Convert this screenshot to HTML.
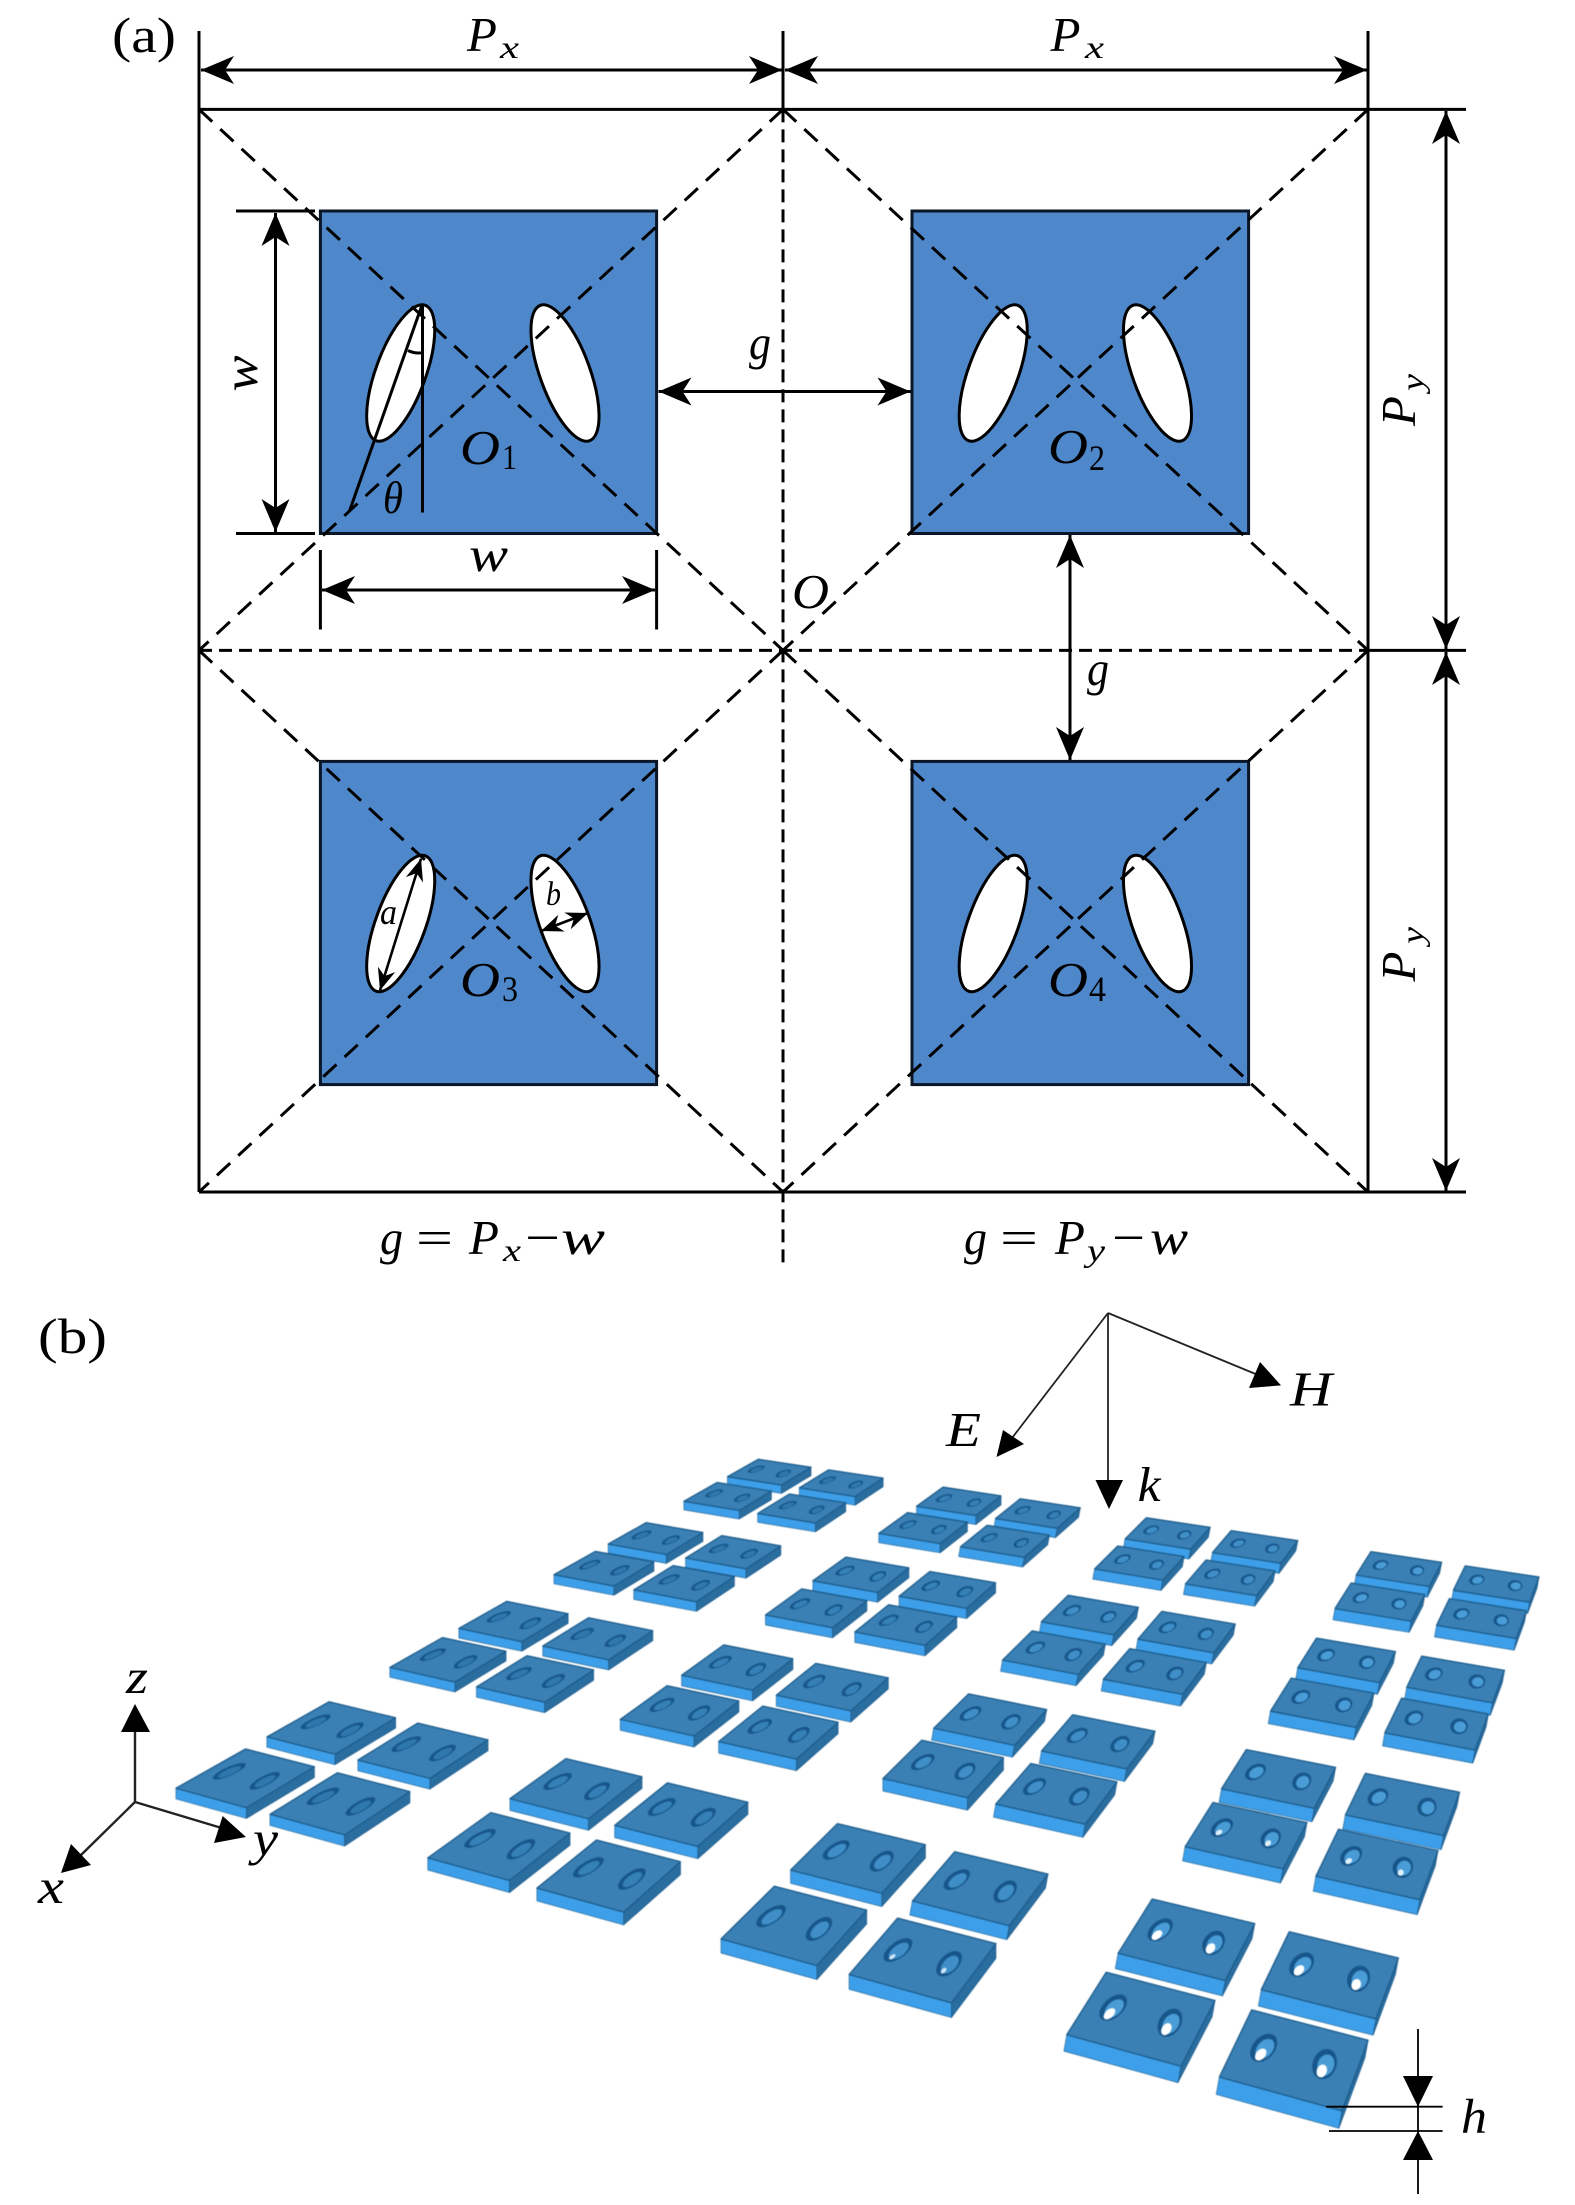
<!DOCTYPE html>
<html>
<head>
<meta charset="utf-8">
<title>Diagram</title>
<style>
html,body{margin:0;padding:0;background:#fff}
svg{display:block}
text{font-family:"Liberation Serif",serif;fill:#000}
.i{font-style:italic}
</style>
</head>
<body>
<svg xmlns="http://www.w3.org/2000/svg" width="1575" height="2205" viewBox="0 0 1575 2205">
<defs>
<marker id="m" markerUnits="userSpaceOnUse" markerWidth="40" markerHeight="32" refX="0" refY="0" viewBox="-36 -16 40 32" orient="auto-start-reverse" overflow="visible"><path d="M0,0 L-33,-14 L-24,0 L-33,14Z" fill="#000"/></marker>
<marker id="s" markerUnits="userSpaceOnUse" markerWidth="30" markerHeight="24" refX="0" refY="0" viewBox="-26 -12 30 24" orient="auto-start-reverse" overflow="visible"><path d="M0,0 L-22,-9 L-15,0 L-22,9Z" fill="#000"/></marker>
</defs>
<rect width="1575" height="2205" fill="#fff"/>

<!-- squares -->
<g fill="#4e88cb" stroke="#0a1626" stroke-width="3">
<rect x="320.4" y="211" width="336.2" height="322.5"/>
<rect x="912" y="211" width="336.6" height="322.5"/>
<rect x="320.4" y="761.4" width="336.2" height="323.2"/>
<rect x="912" y="761.4" width="336.6" height="323.2"/>
</g>
<!-- ellipses -->
<g fill="#fff" stroke="#000" stroke-width="3">
<ellipse cx="400.7" cy="373" rx="25" ry="72" transform="rotate(20 400.7 373)"/>
<ellipse cx="565" cy="373" rx="25" ry="72" transform="rotate(-20 565 373)"/>
<ellipse cx="993.2" cy="373" rx="25" ry="72" transform="rotate(20 993.2 373)"/>
<ellipse cx="1157.5" cy="373" rx="25" ry="72" transform="rotate(-20 1157.5 373)"/>
<ellipse cx="400.7" cy="923.5" rx="25" ry="72" transform="rotate(20 400.7 923.5)"/>
<ellipse cx="565" cy="923.5" rx="25" ry="72" transform="rotate(-20 565 923.5)"/>
<ellipse cx="993.2" cy="923.5" rx="25" ry="72" transform="rotate(20 993.2 923.5)"/>
<ellipse cx="1157.5" cy="923.5" rx="25" ry="72" transform="rotate(-20 1157.5 923.5)"/>
</g>
<!-- dashed -->
<g stroke="#000" stroke-width="3" fill="none" stroke-dasharray="18 11">
<path d="M199,109.4 L783,650.4"/><path d="M783,109.4 L199,650.4"/>
<path d="M783,109.4 L1368,650.4"/><path d="M1368,109.4 L783,650.4"/>
<path d="M199,650.4 L783,1192"/><path d="M783,650.4 L199,1192"/>
<path d="M783,650.4 L1368,1192"/><path d="M1368,650.4 L783,1192"/>
</g>
<g stroke="#000" stroke-width="3" fill="none" stroke-dasharray="13 7">
<path d="M199,650.4 L1368,650.4"/>
<path d="M783,109.4 L783,1263"/>
</g>
<!-- solid lines -->
<g stroke="#000" stroke-width="3" fill="none">
<path d="M199,31 V1192"/>
<path d="M783,31 V109.4"/>
<path d="M1368,31 V1192"/>
<path d="M199,109.4 H1466"/>
<path d="M199,1192 H1466"/>
<path d="M1368,650.4 H1466"/>
<path d="M236,211 H315"/>
<path d="M236,533.5 H315"/>
<path d="M320.4,550 V629.5"/>
<path d="M656.6,550 V629.5"/>
<path d="M422,305 L349.5,511"/>
<path d="M422.5,305 V512.5"/>
<path d="M408,350.5 Q415,354 422.5,352.7"/>
</g>
<!-- arrows -->
<g stroke="#000" stroke-width="3" fill="none">
<path d="M201,70 H782" marker-start="url(#m)" marker-end="url(#m)"/>
<path d="M785,70 H1367" marker-start="url(#m)" marker-end="url(#m)"/>
<path d="M1446,111 V649" marker-start="url(#m)" marker-end="url(#m)"/>
<path d="M1446,652 V1191" marker-start="url(#m)" marker-end="url(#m)"/>
<path d="M275.5,213 V532" marker-start="url(#m)" marker-end="url(#m)"/>
<path d="M322,590 H655" marker-start="url(#m)" marker-end="url(#m)"/>
<path d="M658.5,391.5 H910.5" marker-start="url(#m)" marker-end="url(#m)"/>
<path d="M1070,535 V760" marker-start="url(#m)" marker-end="url(#m)"/>
</g>
<g stroke="#000" stroke-width="2.6" fill="none">
<path d="M421,858.8 L380,990.4" marker-start="url(#s)" marker-end="url(#s)"/>
<path d="M541,931 L588,913" marker-start="url(#s)" marker-end="url(#s)"/>
</g>

<!-- labels (a) -->
<text x="112" y="52" font-size="50" textLength="64" lengthAdjust="spacingAndGlyphs">(a)</text>
<text class="i" x="467" y="51" font-size="49">P</text>
<text class="i" x="500" y="58" font-size="32" textLength="19" lengthAdjust="spacingAndGlyphs">x</text>
<text class="i" x="1050.5" y="51" font-size="49">P</text>
<text class="i" x="1085" y="58" font-size="32" textLength="19" lengthAdjust="spacingAndGlyphs">x</text>
<text class="i" x="749" y="359" font-size="49" textLength="22" lengthAdjust="spacingAndGlyphs">g</text>
<text class="i" x="1087" y="685" font-size="49" textLength="22" lengthAdjust="spacingAndGlyphs">g</text>
<text class="i" x="792" y="608" font-size="49" textLength="37" lengthAdjust="spacingAndGlyphs">O</text>
<text class="i" x="460" y="464" font-size="49" textLength="40" lengthAdjust="spacingAndGlyphs">O</text>
<text x="502" y="469" font-size="36" textLength="15" lengthAdjust="spacingAndGlyphs">1</text>
<text class="i" x="1048" y="463" font-size="49" textLength="40" lengthAdjust="spacingAndGlyphs">O</text>
<text x="1089" y="470" font-size="36" textLength="16" lengthAdjust="spacingAndGlyphs">2</text>
<text class="i" x="460" y="996" font-size="49" textLength="40" lengthAdjust="spacingAndGlyphs">O</text>
<text x="502" y="1001" font-size="36" textLength="16" lengthAdjust="spacingAndGlyphs">3</text>
<text class="i" x="1048" y="996" font-size="49" textLength="40" lengthAdjust="spacingAndGlyphs">O</text>
<text x="1089" y="1001" font-size="36" textLength="17" lengthAdjust="spacingAndGlyphs">4</text>
<text class="i" x="383" y="513" font-size="46" textLength="20" lengthAdjust="spacingAndGlyphs">θ</text>
<text class="i" x="469" y="571" font-size="49" textLength="39" lengthAdjust="spacingAndGlyphs">w</text>
<text class="i" x="257" y="391.5" font-size="49" textLength="36" lengthAdjust="spacingAndGlyphs" transform="rotate(-90 257 391.5)">w</text>
<text class="i" x="1415" y="426" font-size="49" transform="rotate(-90 1415 426)">P</text>
<text class="i" x="1423" y="391" font-size="32" textLength="17" lengthAdjust="spacingAndGlyphs" transform="rotate(-90 1423 391)">y</text>
<text class="i" x="1415" y="981.5" font-size="49" transform="rotate(-90 1415 981.5)">P</text>
<text class="i" x="1423" y="944" font-size="32" textLength="17" lengthAdjust="spacingAndGlyphs" transform="rotate(-90 1423 944)">y</text>
<text class="i" x="380" y="924" font-size="36" textLength="17" lengthAdjust="spacingAndGlyphs">a</text>
<text class="i" x="546" y="905" font-size="34" textLength="15" lengthAdjust="spacingAndGlyphs">b</text>

<text class="i" x="380" y="1254" font-size="49" textLength="23" lengthAdjust="spacingAndGlyphs">g</text>
<text x="416" y="1254" font-size="49" textLength="37" lengthAdjust="spacingAndGlyphs">=</text>
<text class="i" x="469" y="1254" font-size="49">P</text>
<text class="i" x="503" y="1261" font-size="32" textLength="18" lengthAdjust="spacingAndGlyphs">x</text>
<text x="525" y="1254" font-size="49" textLength="35" lengthAdjust="spacingAndGlyphs">−</text>
<text class="i" x="561" y="1254" font-size="49" textLength="44" lengthAdjust="spacingAndGlyphs">w</text>

<text class="i" x="964" y="1254" font-size="49" textLength="23" lengthAdjust="spacingAndGlyphs">g</text>
<text x="1000" y="1254" font-size="49" textLength="38" lengthAdjust="spacingAndGlyphs">=</text>
<text class="i" x="1055" y="1254" font-size="49">P</text>
<text class="i" x="1087" y="1261" font-size="32" textLength="18" lengthAdjust="spacingAndGlyphs">y</text>
<text x="1112" y="1254" font-size="49" textLength="33" lengthAdjust="spacingAndGlyphs">−</text>
<text class="i" x="1150" y="1254" font-size="49" textLength="38" lengthAdjust="spacingAndGlyphs">w</text>

<text x="38" y="1353" font-size="50" textLength="69" lengthAdjust="spacingAndGlyphs">(b)</text>

<!-- tiles (b) -->
<g id="tiles" style="filter:blur(.5px)"></g>

<!-- axes -->
<g stroke="#222" stroke-width="2.4" fill="none">
<path d="M135,1802 V1730"/>
<path d="M135,1802 L225,1829"/>
<path d="M135,1802 L80,1856"/>
</g>
<g fill="#000">
<polygon points="135,1704 121,1732 150,1732"/>
<polygon points="246,1837 222.7,1816 214,1843"/>
<polygon points="61,1873 71,1844 91,1865"/>
</g>
<text class="i" x="126" y="1693" font-size="49" textLength="22" lengthAdjust="spacingAndGlyphs">z</text>
<text class="i" x="253" y="1855" font-size="49" textLength="25" lengthAdjust="spacingAndGlyphs">y</text>
<text class="i" x="38" y="1903" font-size="49" textLength="26" lengthAdjust="spacingAndGlyphs">x</text>

<!-- EHk -->
<g stroke="#222" stroke-width="1.8" fill="none">
<path d="M1108,1313 V1485"/>
<path d="M1108,1313 L1258,1375"/>
<path d="M1108,1313 L1012,1438"/>
</g>
<g fill="#000">
<polygon points="1109,1509 1095.5,1480 1123,1480"/>
<polygon points="1281,1385.4 1260,1362 1249,1388"/>
<polygon points="996.5,1457 1003,1430 1024,1444"/>
</g>
<text class="i" x="946" y="1446" font-size="49" textLength="35" lengthAdjust="spacingAndGlyphs">E</text>
<text class="i" x="1290" y="1405.6" font-size="49" textLength="42" lengthAdjust="spacingAndGlyphs">H</text>
<text class="i" x="1137.6" y="1500.8" font-size="49" textLength="23" lengthAdjust="spacingAndGlyphs">k</text>
<text class="i" x="1461" y="2132.7" font-size="49" textLength="26" lengthAdjust="spacingAndGlyphs">h</text>

<!-- h -->
<g stroke="#000" stroke-width="1.8" fill="none">
<path d="M1326,2106.7 H1442.6"/>
<path d="M1329,2131 H1442.6"/>
<path d="M1418,2029 V2106"/>
<path d="M1418,2131 V2194"/>
<path d="M1418,2106.7 V2131"/>
</g>
<g fill="#000">
<polygon points="1418,2106.7 1403,2076 1433,2076"/>
<polygon points="1418,2131 1403,2160 1433,2160"/>
</g>
</svg>
<script>
(function(){
var g=-0.1671,h=-0.3587,x0=758.3,y0=1459.3,Ax=523.5,Bx=-645.4,Ay=-145.8,By=-312.5;
var NS='http://www.w3.org/2000/svg',root=document.getElementById('tiles');
function H(u,v){var w=1+g*u+h*v;return[(x0+Ax*u+Bx*v)/w,(y0+Ay*u+By*v)/w];}
var L=0.186,G=(1-4*L)/3,T=0.08,Y=L-2*T;
var inner=['#2f78ad','#3580b6','#3f8ec7','#4a9cd6'];
function pts(a){return a.map(function(p){return p[0].toFixed(1)+','+p[1].toFixed(1);}).join(' ');}
function poly(a,f,st,sw){
 var e=document.createElementNS(NS,'polygon');
 e.setAttribute('points',pts(a));e.setAttribute('fill',f);
 if(st){e.setAttribute('stroke',st);e.setAttribute('stroke-width',sw);e.setAttribute('stroke-linejoin','round');}
 root.appendChild(e);
}
function ell(u,v,cs,ct,bu,av,phi,sc,ds,dt){
 var a=[];
 for(var i=0;i<28;i++){
  var t=i/28*Math.PI*2,c=Math.cos(t)*bu*sc,n=Math.sin(t)*av*sc;
  var du=c*Math.cos(phi)+n*Math.sin(phi),dv=-c*Math.sin(phi)+n*Math.cos(phi);
  a.push(H(u+(cs+ds+du)*T,v+(ct+dt+dv)*T));
 }
 return a;
}
function tile(cu,cv,tu,tv){
 var u=cu*(L+G)+tu*(T+Y),v=cv*(L+G)+tv*(T+Y);
 var TL=H(u,v),TR=H(u+T,v),BR=H(u+T,v+T),BL=H(u,v+T);
 var ul=Math.sqrt(Math.pow(BR[0]-BL[0],2)+Math.pow(BR[1]-BL[1],2)),d=0.125*ul+1.5;
 var lean=(BR[0]>1000)?-d*0.18:0;
 var dn=function(p){return[p[0]+lean,p[1]+d];};
 poly([BL,BR,dn(BR),dn(BL)],'#3d9fe9','#2a6d9f',0.7);
 poly([BR,TR,dn(TR),dn(BR)],'#2a6d9f','#1d5a8a',0.7);
 poly([TL,TR,BR,BL],'#3a80b4','#1c5c8c',1.3);
 var ss=[[0.23,-0.06],[0.74,0.06]];
 var b=0.095,a=0.21;
 for(var k=0;k<2;k++){
  var cs=ss[k][0],phi=ss[k][1];
  poly(ell(u,v,cs,0.47,b,a,phi,1,0,0),'#17568a');
  poly(ell(u,v,cs,0.47,b,a,phi,0.7,0.012,0.01),inner[cu]);
  if(cu==3&&cv==3)poly(ell(u,v,cs,0.47,b,a,phi,0.42,0,0.1),'#fff');
  else if(cu==3&&cv==2&&tv==1)poly(ell(u,v,cs,0.47,b,a,phi,0.3,0,0.11),'#dff0fb');
  else if(cu==2&&cv==3&&tu==1&&tv==1)poly(ell(u,v,cs,0.47,b,a,phi,0.22,0,0.12),'#cfe6f6');
 }
}
for(var cv=0;cv<4;cv++)for(var tv=0;tv<2;tv++)for(var cu=0;cu<4;cu++)for(var tu=0;tu<2;tu++)tile(cu,cv,tu,tv);
})();
</script>
</body>
</html>
